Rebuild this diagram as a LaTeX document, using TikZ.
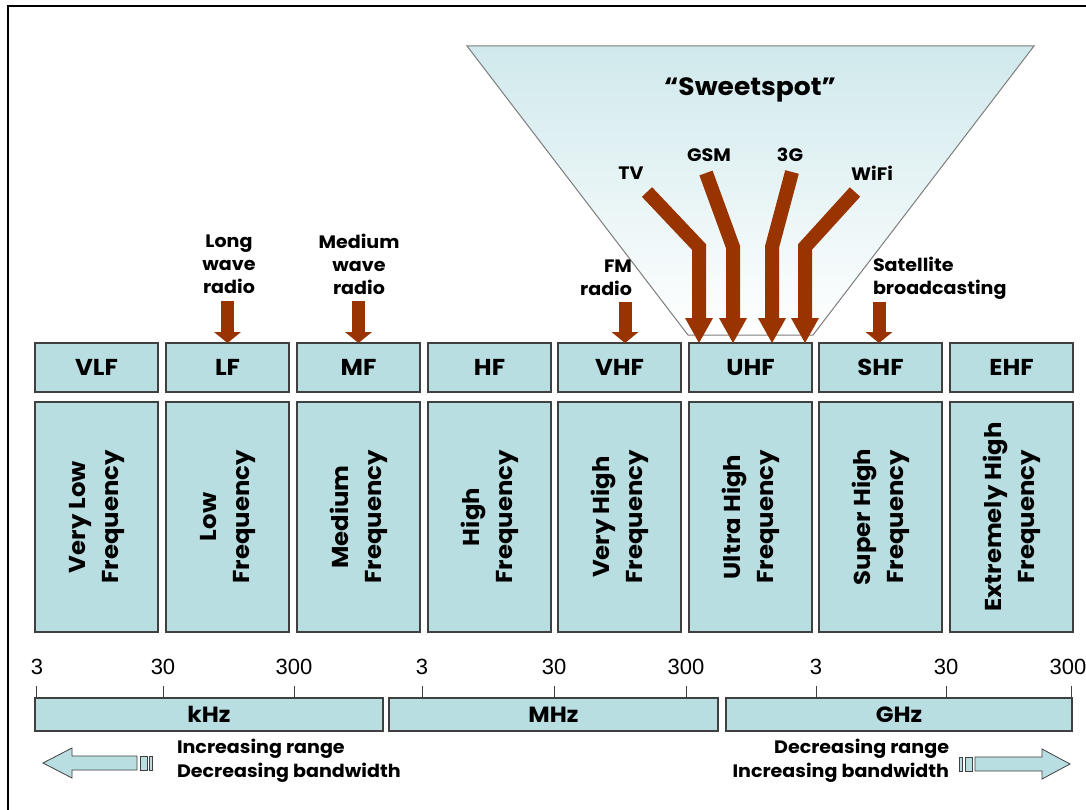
\documentclass[tikz,border=0pt]{standalone}
\usepackage{fontspec}
\setmainfont{Poppins}[FakeStretch=1.06]
\newfontfamily\numfont{Liberation Sans}
\usetikzlibrary{arrows.meta}
\definecolor{boxfill}{RGB}{185,222,226}
\definecolor{boxline}{RGB}{64,64,64}
\definecolor{arrbrown}{RGB}{153,51,0}
\definecolor{sweettop}{RGB}{208,233,236}
\definecolor{sweetline}{RGB}{125,125,125}
\begin{document}
\begin{tikzpicture}[x=1pt,y=-1pt,
  every node/.style={inner sep=0pt, outer sep=0pt},
  hdr/.style={draw=boxline, line width=1.1pt, fill=boxfill, anchor=north west,
    minimum width=123pt, minimum height=49pt, font=\bfseries\fontsize{23}{27}\selectfont},
  bodybox/.style={draw=boxline, line width=1.1pt, fill=boxfill, anchor=north west,
    minimum width=123pt, minimum height=230pt},
  vtext/.style={rotate=90, align=center, font=\bfseries\fontsize{23}{33}\selectfont},
  lbl/.style={align=center, font=\bfseries\fontsize{18}{23}\selectfont},
  bigarr/.style={draw=arrbrown, line width=14pt, line join=miter,
    -{Triangle[length=25pt,width=28pt,line width=0pt 0]}},
  smallarr/.style={draw=arrbrown, line width=13pt,
    -{Triangle[length=11pt,width=27pt,line width=0pt 0]}},
  unitbar/.style={draw=boxline, line width=1.1pt, fill=boxfill, anchor=north west,
    minimum height=33pt, font=\bfseries\fontsize{22}{26}\selectfont},
  num/.style={font=\numfont\mdseries\fontsize{22}{26}\selectfont},
  hollow/.style={draw=boxline, line width=0.8pt, fill=boxfill, line join=miter},
  tick/.style={draw=boxline, line width=0.9pt}
]
\useasboundingbox (0,0) rectangle (1086,810);
\fill[white] (0,0) rectangle (1086,810);

% frame
\draw[line width=2pt] (8,810) -- (8,6) -- (1086,6);

% sweetspot funnel
\draw[draw=sweetline, line width=1pt, top color=sweettop, bottom color=white]
  (467,46) -- (1034,46) -- (813,335) -- (688,335) -- cycle;
\node[font=\bfseries\fontsize{25}{30}\selectfont] (sweet) at (750,90) {“Sweetspot”};

% band headers
\node[hdr] (vlf) at (35,343) {VLF};
\node[hdr] (lf)  at (166,343) {LF};
\node[hdr] (mf)  at (297,343) {MF};
\node[hdr] (hf)  at (428,343) {HF};
\node[hdr] (vhf) at (558,343) {VHF};
\node[hdr] (uhf) at (689,343) {UHF};
\node[hdr] (shf) at (819,343) {SHF};
\node[hdr] (ehf) at (950,343) {EHF};

% band bodies
\node[bodybox] (vlfb) at (35,402) {};
\node[bodybox] (lfb)  at (166,402) {};
\node[bodybox] (mfb)  at (297,402) {};
\node[bodybox] (hfb)  at (428,402) {};
\node[bodybox] (vhfb) at (558,402) {};
\node[bodybox] (uhfb) at (689,402) {};
\node[bodybox] (shfb) at (819,402) {};
\node[bodybox] (ehfb) at (950,402) {};
\node[vtext] (vlft) at (vlfb.center) {Very Low\\Frequency};
\node[vtext] (lft)  at (lfb.center)  {Low\\Frequency};
\node[vtext] (mft)  at (mfb.center)  {Medium\\Frequency};
\node[vtext] (hft)  at (hfb.center)  {High\\Frequency};
\node[vtext] (vhft) at (vhfb.center) {Very High\\Frequency};
\node[vtext] (uhft) at (uhfb.center) {Ultra High\\Frequency};
\node[vtext] (shft) at (shfb.center) {Super High\\Frequency};
\node[vtext] (ehft) at (ehfb.center) {Extremely High\\Frequency};

% application labels
\node[lbl] (lwlab) at (229,264) {Long\\wave\\radio};
\node[lbl] (mwlab) at (359,264) {Medium\\wave\\radio};
\node[lbl, align=right, anchor=east] (fmlab) at (632,278) {FM\\radio};
\node[lbl, align=left, anchor=west] (satlab) at (873,278) {Satellite\\broadcasting};
\node[lbl] (tvlab)   at (631,173) {TV};
\node[lbl] (gsmlab)  at (709,155) {GSM};
\node[lbl] (g3lab)   at (790,155) {3G};
\node[lbl] (wifilab) at (872,173) {WiFi};

% small arrows
\draw[smallarr] ([yshift=42pt]lf.north) -- (lf.north);
\draw[smallarr] ([yshift=42pt]mf.north) -- (mf.north);
\draw[smallarr] ([xshift=5.5pt,yshift=41pt]vhf.north) -- ([xshift=5.5pt]vhf.north);
\draw[smallarr] ([xshift=-1.5pt,yshift=41pt]shf.north) -- ([xshift=-1.5pt]shf.north);

% sweetspot arrows
\coordinate (tvS) at (647,192);  \coordinate (tvB) at (699,247);
\coordinate (gsmS) at (706,173); \coordinate (gsmB) at (733,247);
\coordinate (g3S) at (792,172);  \coordinate (g3B) at (772,247);
\coordinate (wfS) at (855,192);  \coordinate (wfB) at (805,247);
\draw[bigarr] (tvS) -- (tvB) -- (tvB |- uhf.north);
\draw[bigarr] (gsmS) -- (gsmB) -- (gsmB |- uhf.north);
\draw[bigarr] (g3S) -- (g3B) -- (g3B |- uhf.north);
\draw[bigarr] (wfS) -- (wfB) -- (wfB |- uhf.north);

% unit bars
\node[unitbar, minimum width=348pt] (khz) at (35,698) {kHz};
\node[unitbar, minimum width=329pt] (mhz) at (389,698) {MHz};
\node[unitbar, minimum width=346pt] (ghz) at (726,698) {GHz};

% ticks
\foreach \x in {36.5,163,294,422,554,686,816,946,1071.5}
  \draw[tick] (\x,686) -- (\x,698);
\node[num] (n1) at (37,667) {3};
\node[num] (n2) at (163,667) {30};
\node[num] (n3) at (294,667) {300};
\node[num] (n4) at (422,667) {3};
\node[num] (n5) at (554,667) {30};
\node[num] (n6) at (686,667) {300};
\node[num] (n7) at (816,667) {3};
\node[num] (n8) at (946,667) {30};
\node[num] (n9) at (1068,667) {300};

% range arrows
\draw[hollow] (43,763) -- (72,748) -- (72,756) -- (137,756) -- (137,770) -- (72,770) -- (72,778) -- cycle;
\draw[hollow] (140,756) rectangle (147,770);
\draw[hollow] (149,756) rectangle (152,770);
\draw[hollow] (1070,764) -- (1042,749) -- (1042,757) -- (975,757) -- (975,771) -- (1042,771) -- (1042,779) -- cycle;
\draw[hollow] (965,757) rectangle (972,771);
\draw[hollow] (959,757) rectangle (962,771);

\node[font=\bfseries\fontsize{18}{24}\selectfont, align=left, anchor=west] (lefttxt) at (177,761)
  {Increasing range\\Decreasing bandwidth};
\node[font=\bfseries\fontsize{18}{24}\selectfont, align=right, anchor=east] (righttxt) at (949,761)
  {Decreasing range\\Increasing bandwidth};
\end{tikzpicture}
\end{document}
